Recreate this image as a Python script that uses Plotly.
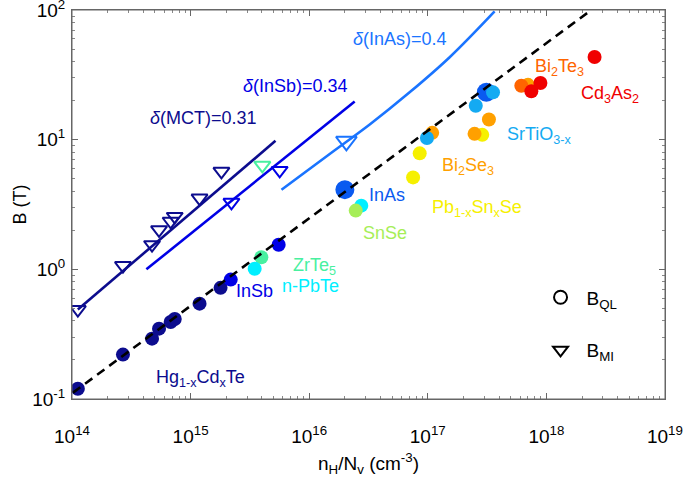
import plotly.graph_objects as go

# ---- data ----
fit_x = [1.02e14, 2.39e18]
fit_y = [0.112, 100]

mct_line_x = [1.12e14, 5.2e15]
mct_line_y = [0.49, 9.8]
insb_line_x = [4.24e14, 2.42e16]
insb_line_y = [1.0, 19.7]
inas_line_x = [5.84e15, 1.49e16, 3.24e16, 7.03e16, 1.53e17, 3.66e17]
inas_line_y = [4.11, 7.76, 13.1, 23.2, 43.3, 97.7]

# B_MI (triangles)
mi_mct_x = [1.12e14, 2.69e14, 4.73e14, 5.42e14, 6.79e14, 7.35e14, 1.19e15, 1.82e15]
mi_mct_y = [0.49, 1.07, 1.55, 2.02, 2.35, 2.56, 3.55, 5.70]
mi_insb_x = [2.21e15, 5.64e15]
mi_insb_y = [3.29, 5.80]
mi_zrte5_x = [4.03e15]
mi_zrte5_y = [6.34]
mi_inas_x = [2.06e16]
mi_inas_y = [9.71]

# B_QL (circles)
ql_mct_x = [1.12e14, 2.69e14, 4.73e14, 5.42e14, 6.79e14, 7.35e14, 1.19e15, 1.79e15]
ql_mct_y = [0.120, 0.220, 0.292, 0.349, 0.393, 0.414, 0.544, 0.720]
ql_insb_x = [2.18e15, 5.53e15]
ql_insb_y = [0.834, 1.55]
ql_zrte5_x = [3.95e15]
ql_zrte5_y = [1.24]
ql_pbte_x = [3.47e15, 2.75e16]
ql_pbte_y = [1.01, 3.10]
ql_snse_x = [2.47e16]
ql_snse_y = [2.84]
ql_inas_x = [2.0e16, 3.12e17]
ql_inas_y = [4.12, 23.2]
ql_pbsnse_x = [7.52e16, 8.55e16, 2.88e17]
ql_pbsnse_y = [5.12, 7.85, 10.9]
ql_bi2se3_x = [1.09e17, 2.48e17, 3.28e17]
ql_bi2se3_y = [11.3, 11.1, 14.3]
ql_srtio3_x = [9.84e16, 2.54e17, 3.55e17]
ql_srtio3_y = [10.3, 18.3, 23.2]
ql_bi2te3_x = [7.0e17, 6.15e17]
ql_bi2te3_y = [26.5, 26.1]
ql_cd3as2_x = [7.47e17, 8.91e17, 2.55e18]
ql_cd3as2_y = [23.6, 27.4, 43.4]

x_tickvals = [1e14, 1e15, 1e16, 1e17, 1e18, 1e19]
x_ticktext = ['10<sup>14</sup>', '10<sup>15</sup>', '10<sup>16</sup>',
              '10<sup>17</sup>', '10<sup>18</sup>', '10<sup>19</sup>']
y_tickvals = [0.1, 1, 10, 100]
y_ticktext = ['10<sup>-1</sup>', '10<sup>0</sup>', '10<sup>1</sup>', '10<sup>2</sup>']

# minor ticks at 2..9 of each decade
x_minor = [m * 10.0 ** e for e in range(14, 19) for m in range(2, 10)]
y_minor = [m * 10.0 ** e for e in range(-1, 2) for m in range(2, 10)]

# colours
NAVY = '#0c0c8e'
BLUE = '#0000e6'
INAS = '#0a5af0'
INAS_L = '#1a74ff'
SRTIO = '#14aaf2'
CYAN = '#00efff'
AQUA = '#48f0a0'
GREEN = '#a6ee58'
YELLOW = '#f6f000'
ORANGE = '#ffa000'
ORED = '#ff6400'
RED = '#f00000'

# labels: text, log10 x, log10 y, colour
labels = [
    ('<i>δ</i>(MCT)=0.31', 15.106, 1.170, NAVY),
    ('<i>δ</i>(InSb)=0.34', 15.882, 1.416, BLUE),
    ('<i>δ</i>(InAs)=0.4', 16.770, 1.776, INAS_L),
    ('Bi<sub>2</sub>Te<sub>3</sub>', 18.108, 1.56, ORED),
    ('Cd<sub>3</sub>As<sub>2</sub>', 18.538, 1.35, RED),
    ('SrTiO<sub>3-x</sub>', 17.939, 1.035, SRTIO),
    ('Bi<sub>2</sub>Se<sub>3</sub>', 17.336, 0.79, ORANGE),
    ('InAs', 16.658, 0.576, INAS),
    ('Pb<sub>1-x</sub>Sn<sub>x</sub>Se', 17.416, 0.47, YELLOW),
    ('SnSe', 16.637, 0.283, GREEN),
    ('ZrTe<sub>5</sub>', 16.042, 0.02, AQUA),
    ('n-PbTe', 16.008, -0.126, CYAN),
    ('InSb', 15.540, -0.164, BLUE),
    ('Hg<sub>1-x</sub>Cd<sub>x</sub>Te', 15.081, -0.84, NAVY),
]

FONT = 'Liberation Sans, Arial, Helvetica, sans-serif'

fig = go.Figure()

def line(x, y, color, width=2.6, dash=None, shape='linear'):
    fig.add_trace(go.Scatter(x=x, y=y, mode='lines', showlegend=False, hoverinfo='skip',
                             line=dict(color=color, width=width, dash=dash, shape=shape)))

def tri(x, y, color, size=14):
    fig.add_trace(go.Scatter(x=x, y=y, mode='markers', showlegend=False,
                             marker=dict(symbol='triangle-down-open', size=size,
                                         color=color, line=dict(color=color, width=2))))

def dot(x, y, color, size=14):
    fig.add_trace(go.Scatter(x=x, y=y, mode='markers', showlegend=False,
                             marker=dict(symbol='circle', size=size, color=color,
                                         line=dict(width=0))))

line(mct_line_x, mct_line_y, NAVY)
line(insb_line_x, insb_line_y, BLUE)
line(inas_line_x, inas_line_y, INAS_L, shape='spline')

tri(mi_mct_x, mi_mct_y, NAVY)
tri(mi_insb_x, mi_insb_y, BLUE)
tri(mi_zrte5_x, mi_zrte5_y, AQUA)
tri(mi_inas_x, mi_inas_y, INAS_L, size=18)

dot(ql_mct_x, ql_mct_y, NAVY)
dot(ql_insb_x, ql_insb_y, BLUE)
dot(ql_zrte5_x, ql_zrte5_y, AQUA)
dot(ql_pbte_x, ql_pbte_y, CYAN)
dot(ql_snse_x, ql_snse_y, GREEN)
dot(ql_inas_x, ql_inas_y, INAS, size=19)
dot(ql_pbsnse_x, ql_pbsnse_y, YELLOW)
dot(ql_bi2se3_x, ql_bi2se3_y, ORANGE)
dot(ql_srtio3_x, ql_srtio3_y, SRTIO)
dot(ql_bi2te3_x, ql_bi2te3_y, [ORANGE, ORED])
dot(ql_cd3as2_x, ql_cd3as2_y, RED)

line(fit_x, fit_y, 'black', width=2.6, dash='9px,6px')

# legend entries (no data, only symbols)
fig.add_trace(go.Scatter(x=[None], y=[None], mode='markers', name='B<sub>QL</sub>',
                         legendgroup='a',
                         marker=dict(symbol='circle-open', size=13, color='black',
                                     line=dict(width=2))))
fig.add_trace(go.Scatter(x=[None], y=[None], mode='markers', name='B<sub>MI</sub>',
                         legendgroup='b',
                         marker=dict(symbol='triangle-down-open', size=13, color='black',
                                     line=dict(width=2))))

for txt, lx, ly, col in labels:
    fig.add_annotation(x=lx, y=ly, xref='x', yref='y', text=txt, showarrow=False,
                       xanchor='center', yanchor='middle',
                       font=dict(size=18, color=col, family=FONT))

# frame round the plot area
fig.add_shape(type='rect', xref='paper', yref='paper', x0=0, y0=0, x1=1, y1=1,
              line=dict(color='#666666', width=1), layer='above')

axis_common = dict(
    type='log', showgrid=False, zeroline=False, automargin=False,
    showline=True, linecolor='#666666', linewidth=1, mirror='ticks',
    ticks='inside', ticklen=6, tickcolor='#666666',
    tickfont=dict(size=19, color='black', family=FONT),
    ticklabeloverflow='allow',
)

fig.update_xaxes(range=[14, 19.0005], tickmode='array', tickvals=x_tickvals, ticktext=x_ticktext,
                 minor=dict(tickmode='array', tickvals=x_minor, ticks='inside', ticklen=3,
                            tickcolor='#888888', showgrid=False),
                 title=dict(text='n<sub>H</sub>/N<sub>v</sub> (cm<sup>-3</sup>)',
                            font=dict(size=19, color='black', family=FONT), standoff=10),
                 ticklabelstandoff=20, **axis_common)
fig.update_yaxes(range=[-1, 2.0005], tickmode='array', tickvals=y_tickvals, ticktext=y_ticktext,
                 minor=dict(tickmode='array', tickvals=y_minor, ticks='inside', ticklen=3,
                            tickcolor='#888888', showgrid=False),
                 title=dict(text='B (T)', font=dict(size=18, color='black', family=FONT),
                            standoff=0),
                 ticklabelstandoff=2, **axis_common)

fig.update_layout(
    width=685, height=479,
    margin=dict(l=72, r=20, t=10, b=80),
    plot_bgcolor='white', paper_bgcolor='white',
    font=dict(family=FONT, color='black'),
    showlegend=True,
    legend=dict(x=0.78, y=0.31, xanchor='left', yanchor='top', itemwidth=42,
                bgcolor='rgba(0,0,0,0)', tracegroupgap=25, traceorder='grouped',
                font=dict(size=19, color='black', family=FONT)),
)

# page body has an 8px default margin; remove it so the figure fills the window
fig.write_html("out.html", config={'displayModeBar': False},
               post_script="document.body.style.margin='0';document.body.style.overflow='hidden';")
